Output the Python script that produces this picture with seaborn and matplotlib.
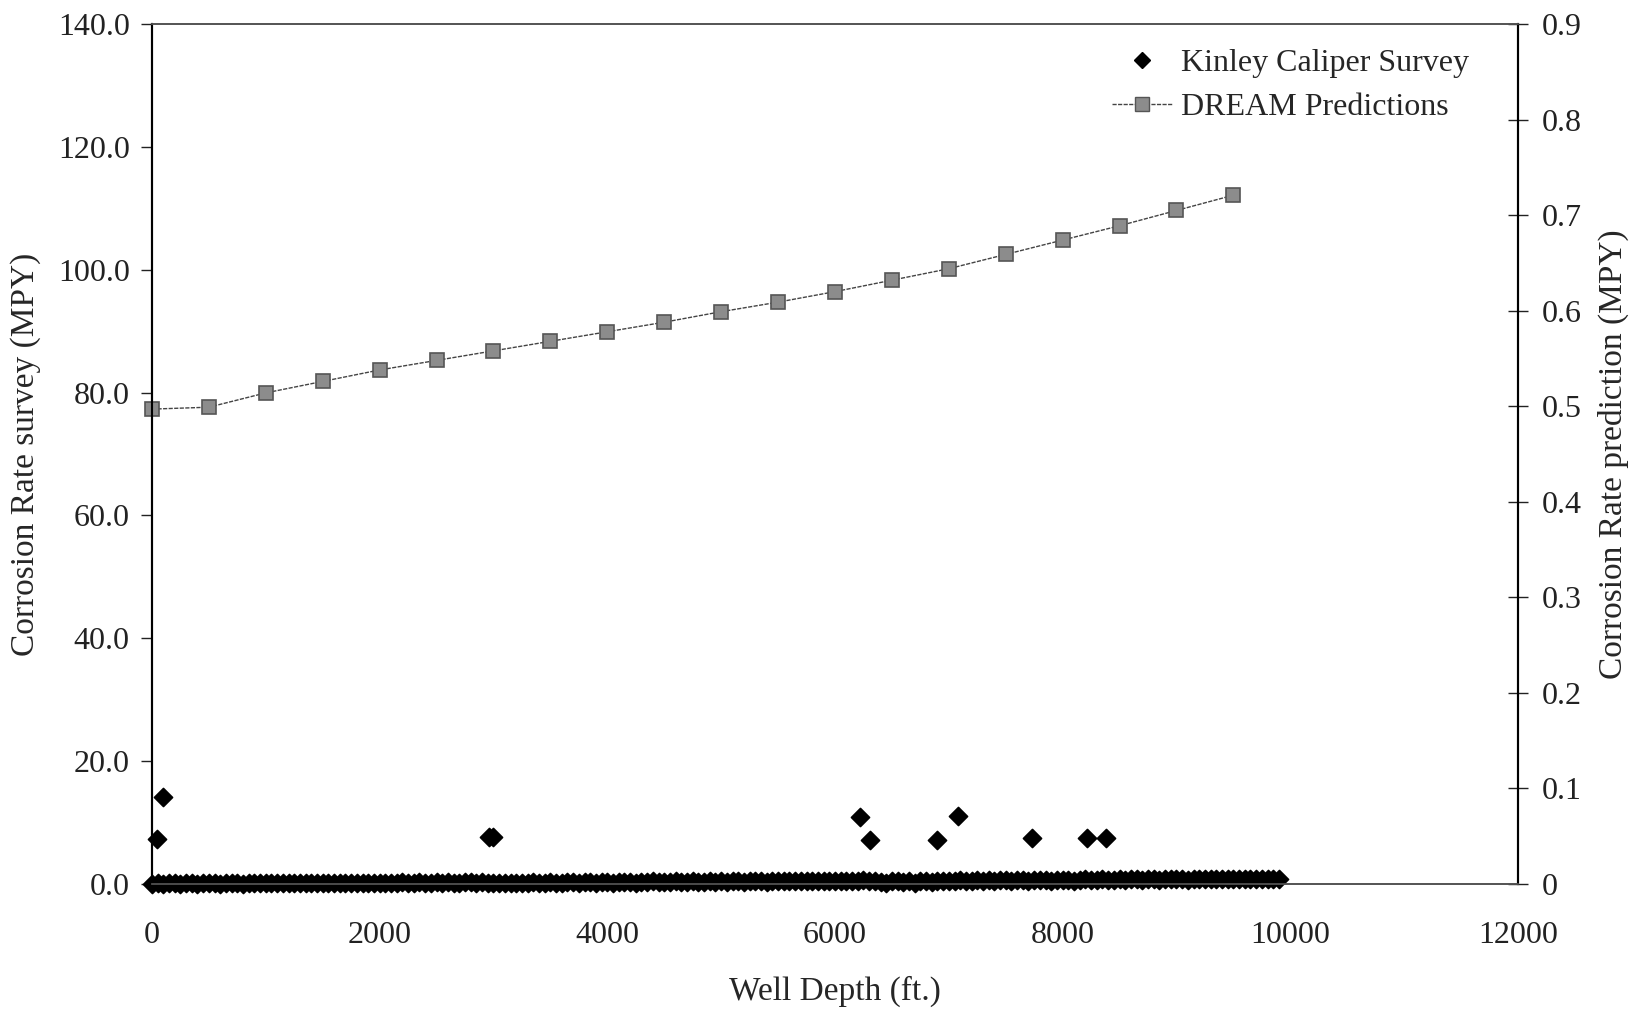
import numpy as np
import pandas as pd
import matplotlib
matplotlib.use("Agg")
import matplotlib.pyplot as plt
import seaborn as sns
from matplotlib.lines import Line2D

# Kinley caliper survey - dense band of readings every 50 ft
band_depth = np.arange(0, 9950, 50)
band_rate = [
    0.0, 0.1, 0.0, 0.2, 0.1, 0.0, 0.1, 0.1, 0.0, 0.2, 0.1, 0.1, 0.0, 0.1, 0.2, 0.1, 0.0, 0.1, 0.1, 0.2,
    0.1, 0.2, 0.1, 0.1, 0.2, 0.1, 0.1, 0.2, 0.2, 0.1, 0.2, 0.1, 0.2, 0.2, 0.1, 0.2, 0.2, 0.1, 0.2, 0.2,
    0.2, 0.1, 0.2, 0.2, 0.3, 0.2, 0.2, 0.3, 0.2, 0.2, 0.3, 0.2, 0.3, 0.2, 0.2, 0.3, 0.3, 0.2, 0.3, 0.2,
    0.1, 0.2, 0.2, 0.1, 0.2, 0.2, 0.2, 0.3, 0.2, 0.2, 0.3, 0.2, 0.2, 0.3, 0.3, 0.2, 0.3, 0.3, 0.2, 0.3,
    0.3, 0.2, 0.3, 0.3, 0.3, 0.2, 0.3, 0.3, 0.4, 0.3, 0.3, 0.3, 0.4, 0.3, 0.3, 0.4, 0.3, 0.3, 0.4, 0.3,
    0.4, 0.3, 0.4, 0.4, 0.3, 0.4, 0.4, 0.4, 0.3, 0.4, 0.4, 0.4, 0.5, 0.4, 0.4, 0.4, 0.5, 0.4, 0.4, 0.5,
    0.4, 0.5, 0.4, 0.5, 0.5, 0.6, 0.4, 0.5, 0.3, 0.2, 0.5, 0.4, 0.3, 0.5, 0.2, 0.4, 0.5, 0.3, 0.5, 0.4,
    0.5, 0.5, 0.6, 0.5, 0.5, 0.6, 0.5, 0.6, 0.5, 0.6, 0.6, 0.5, 0.6, 0.6, 0.5, 0.6, 0.6, 0.6, 0.5, 0.6,
    0.6, 0.6, 0.5, 0.6, 0.7, 0.6, 0.6, 0.7, 0.6, 0.6, 0.7, 0.6, 0.7, 0.7, 0.6, 0.7, 0.7, 0.6, 0.7, 0.7,
    0.7, 0.7, 0.6, 0.7, 0.7, 0.8, 0.7, 0.7, 0.8, 0.7, 0.7, 0.8, 0.7, 0.8, 0.8, 0.7, 0.8, 0.8, 0.8,
]
# isolated higher readings
peak_depth = [40, 100, 2960, 3000, 6220, 6310, 6900, 7080, 7730, 8210, 8380]
peak_rate = [7.3, 14.1, 7.6, 7.6, 10.8, 7.2, 7.2, 11.0, 7.5, 7.4, 7.4]

# DREAM predictions (right axis)
dream_depth = [0, 500, 1000, 1500, 2000, 2500, 3000, 3500, 4000, 4500,
               5000, 5500, 6000, 6500, 7000, 7500, 8000, 8500, 9000, 9500]
dream_rate = [0.497, 0.499, 0.514, 0.526, 0.538, 0.548, 0.558, 0.568, 0.578, 0.588,
              0.599, 0.609, 0.620, 0.632, 0.644, 0.659, 0.674, 0.689, 0.705, 0.721]

survey = pd.DataFrame({"depth": list(band_depth) + peak_depth,
                       "rate": band_rate + peak_rate})
dream = pd.DataFrame({"depth": dream_depth, "rate": dream_rate})

sns.set_theme(style="white")
plt.rcParams["font.family"] = ["Liberation Serif", "DejaVu Serif"]
fs_tick = 23
fs_label = 24

fig, ax = plt.subplots(figsize=(16.34, 10.10), dpi=100)
fig.subplots_adjust(left=0.093, right=0.929, top=0.976, bottom=0.125)

sns.scatterplot(data=survey, x="depth", y="rate", marker="D", s=85, color="black",
                edgecolor="black", linewidth=1.2, ax=ax, legend=False, clip_on=False, zorder=3)
ax.set_xlim(0, 12000)
ax.set_ylim(0, 140)
ax.set_xticks(range(0, 12001, 2000))
ax.set_xticklabels([str(v) for v in range(0, 12001, 2000)])
ax.set_yticks(range(0, 141, 20))
ax.set_yticklabels([f"{v:.1f}" for v in range(0, 141, 20)])
ax.set_xlabel("Well Depth (ft.)", fontsize=fs_label, labelpad=18)
ax.set_ylabel("Corrosion Rate survey (MPY)", fontsize=fs_label, labelpad=12)
ax.tick_params(axis="x", direction="out", length=5, width=1, pad=22, labelsize=fs_tick, colors="#222")
ax.tick_params(axis="y", direction="out", length=8, width=1, pad=8, labelsize=fs_tick, colors="#222")

ax2 = ax.twinx()
sns.lineplot(data=dream, x="depth", y="rate", ax=ax2, color="#444444", linewidth=1,
             linestyle=(0, (3, 1)), marker="s", markersize=9.5, markerfacecolor="#8c8c8c",
             markeredgecolor="#555555", markeredgewidth=1.2, legend=False, clip_on=False)
ax2.set_ylim(0, 0.9)
ax2.set_yticks(np.arange(0, 0.91, 0.1))
ax2.set_yticklabels(["0"] + [f"{v:.1f}" for v in np.arange(0.1, 0.91, 0.1)])
ax2.set_ylabel("Corrosion Rate prediction (MPY)", fontsize=fs_label, labelpad=12)
ax2.tick_params(axis="y", direction="inout", length=14, width=1, pad=10, labelsize=fs_tick, colors="#222")

for a in (ax, ax2):
    a.spines["left"].set_color("black")
    a.spines["right"].set_color("black")
    a.spines["left"].set_linewidth(1.5)
    a.spines["right"].set_linewidth(1.5)
    a.spines["top"].set_color("#555555")
    a.spines["top"].set_linestyle((0, (2, 1)))
    a.spines["bottom"].set_color("#555555")
    a.spines["bottom"].set_linestyle((0, (2, 1)))

handles = [
    Line2D([], [], marker="D", color="black", linestyle="none", markersize=8),
    Line2D([], [], marker="s", color="#444444", linestyle=(0, (3, 1)), linewidth=1,
           markersize=9.5, markerfacecolor="#8c8c8c", markeredgecolor="#555555"),
]
ax2.legend(handles, ["Kinley Caliper Survey", "DREAM Predictions"], loc="upper right",
           bbox_to_anchor=(0.985, 1.005), frameon=False, fontsize=fs_tick,
           handlelength=1.9, handletextpad=0.25, labelspacing=0.45)

fig.savefig("out.png", dpi=100)
